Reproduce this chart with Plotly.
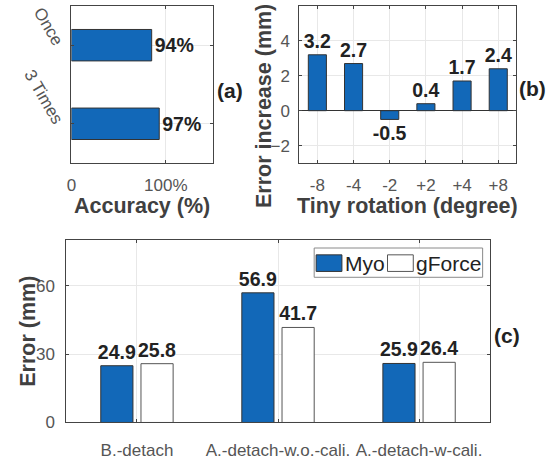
import plotly.graph_objects as go

# Panel (a)
a_cats = ["Once", "3 Times"]
a_vals = [85, 93]
a_labels = ["94%", "97%"]

# Panel (b)
b_cats = ["-8", "-4", "-2", "+2", "+4", "+8"]
b_vals = [3.2, 2.7, -0.5, 0.4, 1.7, 2.4]

# Panel (c)
c_cats = ["B.-detach", "A.-detach-w.o.-cali.", "A.-detach-w-cali."]
c_myo = [24.9, 56.9, 25.9]
c_gforce = [25.8, 41.7, 26.4]
series_names = ["Myo", "gForce"]

BLUE = "#1268B8"
FONT = "Liberation Sans, Arial, sans-serif"
TICKC = "#555555"
TITLEC = "#404040"
LINEC = "#444444"
GRID = "#e8e8e8"
LBL = "#222222"
VAL_SIZE = 19.5
TICK_SIZE = 17
TITLE_SIZE = 21.5

fig = go.Figure()

fig.add_trace(go.Bar(
    y=a_cats, x=a_vals, orientation="h", width=0.4,
    marker=dict(color=BLUE, line=dict(color="#333333", width=1)),
    text=["<b>%s</b>" % t for t in a_labels], textposition="outside",
    textfont=dict(size=VAL_SIZE, color=LBL, family=FONT), constraintext="none",
    cliponaxis=False, xaxis="x", yaxis="y", showlegend=False))

fig.add_trace(go.Bar(
    x=b_cats, y=b_vals, width=0.5,
    marker=dict(color=BLUE, line=dict(color="#333333", width=1)),
    text=["<b>%s</b>" % v for v in b_vals], textposition="outside",
    textfont=dict(size=VAL_SIZE, color=LBL, family=FONT), constraintext="none",
    cliponaxis=False, xaxis="x2", yaxis="y2", showlegend=False))

fig.add_trace(go.Bar(
    x=c_cats, y=c_myo, name=series_names[0],
    marker=dict(color=BLUE, line=dict(color="#333333", width=1)),
    text=["<b>%s</b>" % v for v in c_myo], textposition="outside",
    textfont=dict(size=VAL_SIZE, color=LBL, family=FONT), constraintext="none",
    cliponaxis=False, xaxis="x3", yaxis="y3", showlegend=False))
fig.add_trace(go.Bar(
    x=c_cats, y=c_gforce, name=series_names[1],
    marker=dict(color="white", line=dict(color="#555555", width=1)),
    text=["<b>%s</b>" % v for v in c_gforce], textposition="outside",
    textfont=dict(size=VAL_SIZE, color=LBL, family=FONT), constraintext="none",
    cliponaxis=False, xaxis="x3", yaxis="y3", showlegend=False))


def ax(standoff=6, **kw):
    d = dict(showline=True, linecolor=LINEC, linewidth=1, mirror="ticks",
             ticks="inside", ticklen=3, tickcolor=LINEC,
             showgrid=True, gridcolor=GRID, zeroline=False,
             ticklabelstandoff=standoff,
             tickfont=dict(size=TICK_SIZE, color=TICKC, family=FONT))
    d.update(kw)
    return d


fig.update_layout(
    width=552, height=464,
    margin=dict(l=0, r=0, t=0, b=0),
    paper_bgcolor="white", plot_bgcolor="white",
    font=dict(family=FONT),
    barmode="group", bargap=0.43, bargroupgap=0.2,
    showlegend=False,
    xaxis=ax(standoff=7, domain=[0.1214, 0.3804], anchor="y", range=[0, 150],
             tickvals=[0, 100], ticktext=["0", "100%"]),
    yaxis=ax(domain=[0.6422, 0.9892], anchor="x", autorange="reversed",
             tickangle=60),
    xaxis2=ax(standoff=7, domain=[0.538, 0.9348], anchor="y2"),
    yaxis2=ax(standoff=5, domain=[0.6422, 0.9892], anchor="x2", range=[-3, 6],
              tickvals=[-2, 0, 2, 4],
              zeroline=True, zerolinecolor="#333333", zerolinewidth=1),
    xaxis3=ax(standoff=12, domain=[0.1123, 0.8859], anchor="y3"),
    yaxis3=ax(standoff=7, domain=[0.0696, 0.4720], anchor="x3", range=[0, 80],
              tickvals=[0, 30, 60]),
)

title_font = dict(size=TITLE_SIZE, color=TITLEC, family=FONT)
for txt, x, y, ang in [("Accuracy (%)", 0.2509, 0.5474, 0),
                       ("Tiny rotation (degree)", 0.7355, 0.5474, 0),
                       ("Error increase (mm)", 0.4746, 0.7672, -90),
                       ("Error (mm)", 0.0417, 0.2716, -90)]:
    fig.add_annotation(text="<b>%s</b>" % txt, x=x, y=y, xref="paper", yref="paper",
                       xanchor="center", yanchor="middle", textangle=ang,
                       showarrow=False, font=title_font)

for txt, x, y in [("(a)", 0.411, 0.8017), ("(b)", 0.964, 0.806), ("(c)", 0.9185, 0.2608)]:
    fig.add_annotation(text="<b>%s</b>" % txt, x=x, y=y, xref="paper", yref="paper",
                       xanchor="center", yanchor="middle",
                       showarrow=False, font=dict(size=21, color=LBL, family=FONT))

# custom legend (large swatches like the original)
W, H = 552.0, 464.0
def px(x0, y0, x1, y1):
    return dict(x0=x0 / W, x1=x1 / W, y0=1 - y0 / H, y1=1 - y1 / H, xref="paper", yref="paper")

fig.add_shape(type="rect", line=dict(color="#8a8a8a", width=1), fillcolor="white",
              **px(312, 253, 482, 283))
fig.add_shape(type="rect", line=dict(color="#333333", width=1), fillcolor=BLUE,
              **px(314, 260, 340, 277))
fig.add_shape(type="rect", line=dict(color="#555555", width=1), fillcolor="white",
              **px(386, 260, 412, 277))
for txt, xl in [(series_names[0], 341), (series_names[1], 413)]:
    fig.add_annotation(text=txt, x=xl / W, y=1 - 268.5 / H, xref="paper", yref="paper",
                       xanchor="left", yanchor="middle", showarrow=False,
                       font=dict(size=21, color=LBL, family=FONT))

fig.write_html("out.html")
